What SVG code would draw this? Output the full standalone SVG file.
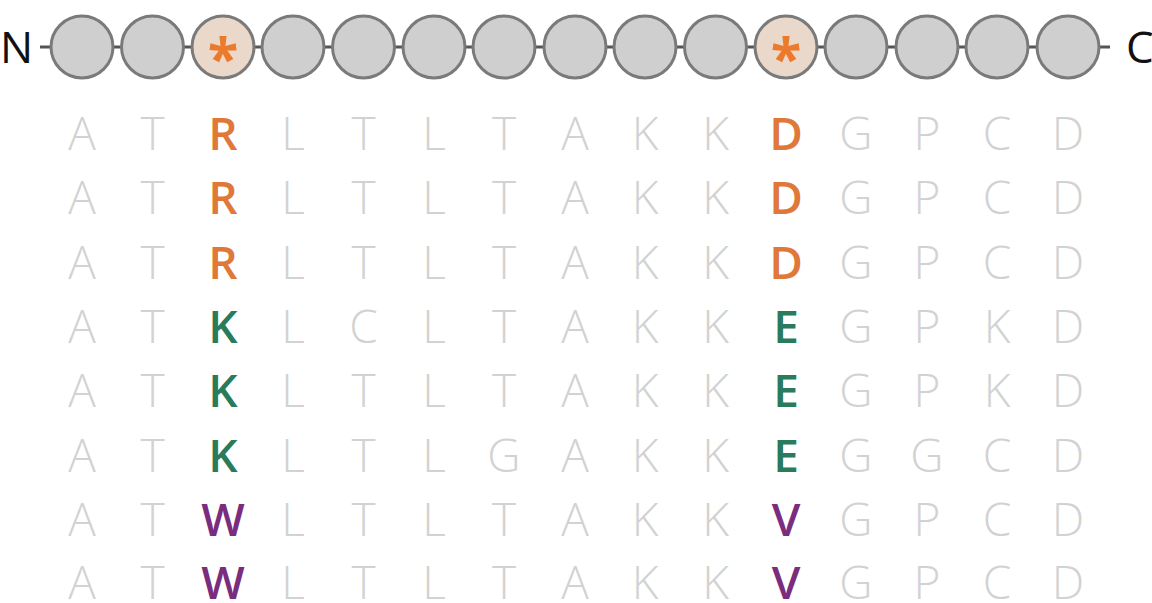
<svg xmlns="http://www.w3.org/2000/svg" width="1152" height="603" viewBox="0 0 1152 603">
<style>
.res{fill:#cfcfcf;stroke:#7a7a7a;stroke-width:3}
.hot{fill:#ead8cb;stroke:#7a7a7a;stroke-width:3}
.star{font-family:"Open Sans","DejaVu Sans",sans-serif;font-size:56px;font-weight:700;fill:#ec7a2c;text-anchor:middle}
.term{font-family:"Open Sans","Liberation Sans",sans-serif;font-size:44px;fill:#111}
.conn{stroke:#555;stroke-width:3;fill:none}
.seq text{font-family:"Open Sans","Liberation Sans",sans-serif;font-size:46px;text-anchor:middle}
.g{fill:#d2d2d2;font-weight:300}
.o{fill:#e0783a;font-weight:600}
.gr{fill:#2a7a5c;font-weight:600}
.p{fill:#7a2d7e;font-weight:600}
</style>
<rect width="1152" height="603" fill="#fff"/>
<g id="connectors">
<line class="conn" x1="40" y1="47" x2="1110" y2="47"/>
</g>
<g id="terminal-N"><text class="term" x="0" y="63">N</text></g>
<g id="terminal-C"><text class="term" x="1126" y="63">C</text></g>
<g id="res1"><circle class="res" cx="82" cy="47" r="31"/></g>
<g id="res2"><circle class="res" cx="152.5" cy="47" r="31"/></g>
<g id="res3"><circle class="hot" cx="223" cy="47" r="31"/><text class="star" x="223" y="78">*</text></g>
<g id="res4"><circle class="res" cx="293" cy="47" r="31"/></g>
<g id="res5"><circle class="res" cx="363.5" cy="47" r="31"/></g>
<g id="res6"><circle class="res" cx="434" cy="47" r="31"/></g>
<g id="res7"><circle class="res" cx="504" cy="47" r="31"/></g>
<g id="res8"><circle class="res" cx="575" cy="47" r="31"/></g>
<g id="res9"><circle class="res" cx="645" cy="47" r="31"/></g>
<g id="res10"><circle class="res" cx="715.5" cy="47" r="31"/></g>
<g id="res11"><circle class="hot" cx="786" cy="47" r="31"/><text class="star" x="786" y="78">*</text></g>
<g id="res12"><circle class="res" cx="856" cy="47" r="31"/></g>
<g id="res13"><circle class="res" cx="927" cy="47" r="31"/></g>
<g id="res14"><circle class="res" cx="997" cy="47" r="31"/></g>
<g id="res15"><circle class="res" cx="1068" cy="47" r="31"/></g>
<g class="seq" id="alignment">
<g id="row1" transform="translate(0,150)"><text class="g" x="82">A</text><text class="g" x="152.5">T</text><text class="o" x="223">R</text><text class="g" x="293">L</text><text class="g" x="363.5">T</text><text class="g" x="434">L</text><text class="g" x="504">T</text><text class="g" x="575">A</text><text class="g" x="645">K</text><text class="g" x="715.5">K</text><text class="o" x="786">D</text><text class="g" x="856">G</text><text class="g" x="927">P</text><text class="g" x="997">C</text><text class="g" x="1068">D</text></g>
<g id="row2" transform="translate(0,214.3)"><text class="g" x="82">A</text><text class="g" x="152.5">T</text><text class="o" x="223">R</text><text class="g" x="293">L</text><text class="g" x="363.5">T</text><text class="g" x="434">L</text><text class="g" x="504">T</text><text class="g" x="575">A</text><text class="g" x="645">K</text><text class="g" x="715.5">K</text><text class="o" x="786">D</text><text class="g" x="856">G</text><text class="g" x="927">P</text><text class="g" x="997">C</text><text class="g" x="1068">D</text></g>
<g id="row3" transform="translate(0,278.6)"><text class="g" x="82">A</text><text class="g" x="152.5">T</text><text class="o" x="223">R</text><text class="g" x="293">L</text><text class="g" x="363.5">T</text><text class="g" x="434">L</text><text class="g" x="504">T</text><text class="g" x="575">A</text><text class="g" x="645">K</text><text class="g" x="715.5">K</text><text class="o" x="786">D</text><text class="g" x="856">G</text><text class="g" x="927">P</text><text class="g" x="997">C</text><text class="g" x="1068">D</text></g>
<g id="row4" transform="translate(0,343)"><text class="g" x="82">A</text><text class="g" x="152.5">T</text><text class="gr" x="223">K</text><text class="g" x="293">L</text><text class="g" x="363.5">C</text><text class="g" x="434">L</text><text class="g" x="504">T</text><text class="g" x="575">A</text><text class="g" x="645">K</text><text class="g" x="715.5">K</text><text class="gr" x="786">E</text><text class="g" x="856">G</text><text class="g" x="927">P</text><text class="g" x="997">K</text><text class="g" x="1068">D</text></g>
<g id="row5" transform="translate(0,407.3)"><text class="g" x="82">A</text><text class="g" x="152.5">T</text><text class="gr" x="223">K</text><text class="g" x="293">L</text><text class="g" x="363.5">T</text><text class="g" x="434">L</text><text class="g" x="504">T</text><text class="g" x="575">A</text><text class="g" x="645">K</text><text class="g" x="715.5">K</text><text class="gr" x="786">E</text><text class="g" x="856">G</text><text class="g" x="927">P</text><text class="g" x="997">K</text><text class="g" x="1068">D</text></g>
<g id="row6" transform="translate(0,471.6)"><text class="g" x="82">A</text><text class="g" x="152.5">T</text><text class="gr" x="223">K</text><text class="g" x="293">L</text><text class="g" x="363.5">T</text><text class="g" x="434">L</text><text class="g" x="504">G</text><text class="g" x="575">A</text><text class="g" x="645">K</text><text class="g" x="715.5">K</text><text class="gr" x="786">E</text><text class="g" x="856">G</text><text class="g" x="927">G</text><text class="g" x="997">C</text><text class="g" x="1068">D</text></g>
<g id="row7" transform="translate(0,536)"><text class="g" x="82">A</text><text class="g" x="152.5">T</text><text class="p" x="223">W</text><text class="g" x="293">L</text><text class="g" x="363.5">T</text><text class="g" x="434">L</text><text class="g" x="504">T</text><text class="g" x="575">A</text><text class="g" x="645">K</text><text class="g" x="715.5">K</text><text class="p" x="786">V</text><text class="g" x="856">G</text><text class="g" x="927">P</text><text class="g" x="997">C</text><text class="g" x="1068">D</text></g>
<g id="row8" transform="translate(0,599)"><text class="g" x="82">A</text><text class="g" x="152.5">T</text><text class="p" x="223">W</text><text class="g" x="293">L</text><text class="g" x="363.5">T</text><text class="g" x="434">L</text><text class="g" x="504">T</text><text class="g" x="575">A</text><text class="g" x="645">K</text><text class="g" x="715.5">K</text><text class="p" x="786">V</text><text class="g" x="856">G</text><text class="g" x="927">P</text><text class="g" x="997">C</text><text class="g" x="1068">D</text></g>
</g>
</svg>
